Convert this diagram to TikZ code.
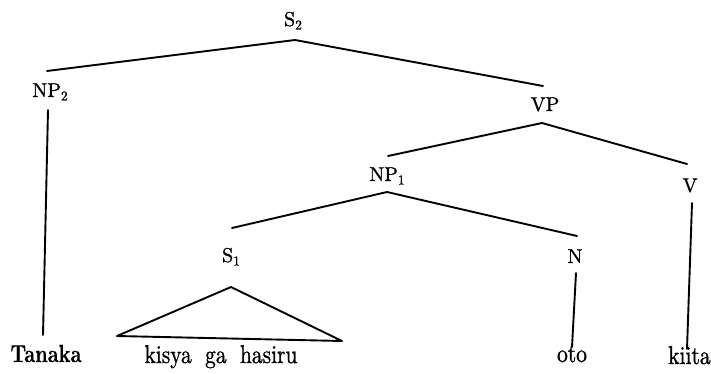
\documentclass[tikz,border=0pt]{standalone}
\usepackage{graphicx}
\usepackage{fontspec}
\newfontfamily\heavy{lmroman10-regular.otf}[FakeBold=1.0]
\newfontfamily\heavybf{lmroman10-bold.otf}[FakeBold=0.4]
\newcommand{\sbs}[1]{\raisebox{-3.5pt}{\fontsize{13.5}{14}\heavy #1}}
\begin{document}
\begin{tikzpicture}[x=1pt,y=-1pt,
  lab/.style={inner sep=0pt,anchor=base,font=\fontsize{20}{23}\heavy},
  word/.style={inner sep=0pt,anchor=base,font=\fontsize{21.5}{24}\heavy},
  edge/.style={line width=1.9pt,line cap=round,line join=round}]
\useasboundingbox (0,0) rectangle (711,374);
% labels
\node[lab] (S2)  at (293,26)  {S\sbs{2}};
\node[lab] (NP2) at (50,97)   {NP\sbs{2}};
\node[lab] (VP)  at (545,111) {VP};
\node[lab] (NP1) at (387,181) {NP\sbs{1}};
\node[lab] (V)   at (690,192) {V};
\node[lab] (S1)  at (231,262) {S\sbs{1}};
\node[lab] (N)   at (575,263) {N};
% words
\node[word] (tanaka) at (46,362) {\scalebox{0.91}[1.15]{\heavybf Tanaka}};
\node[word] (kisya)  at (221,363) {\scalebox{1}[1.2]{kisya\hspace{0.62em}ga\hspace{0.62em}hasiru}};
\node[word] (oto)    at (572,362) {\scalebox{1}[1.2]{oto}};
\node[word,anchor=base west] (kiita) at (668,364) {\scalebox{1}[1.2]{kiita}};
% connector end points
\coordinate (s2b)  at (295,40);
\coordinate (np2t) at (47,71);
\coordinate (vpt)  at (543,86);
\coordinate (np2b) at (48,110);
\coordinate (tant) at (43,335);
\coordinate (vpb)  at (542,123);
\coordinate (np1t) at (388,156);
\coordinate (vt)   at (687,164);
\coordinate (np1b) at (387,192);
\coordinate (s1t)  at (232,228);
\coordinate (nt)   at (577,236);
\coordinate (vb)   at (692,203);
\coordinate (kit)  at (687,349);
\coordinate (nb)   at (576,273);
\coordinate (otot) at (572,347);
\coordinate (tria) at (231,287);
\coordinate (tril) at (117,336);
\coordinate (trir) at (342,341);
% connectors
\draw[edge] (np2t) -- (s2b) -- (vpt);
\draw[edge] (np2b) -- (tant);
\draw[edge] (np1t) -- (vpb) -- (vt);
\draw[edge] (s1t) -- (np1b) -- (nt);
\draw[edge] (vb) -- (kit);
\draw[edge] (nb) -- (otot);
\draw[edge] (tria) -- (tril) -- (trir) -- cycle;
\end{tikzpicture}
\end{document}
